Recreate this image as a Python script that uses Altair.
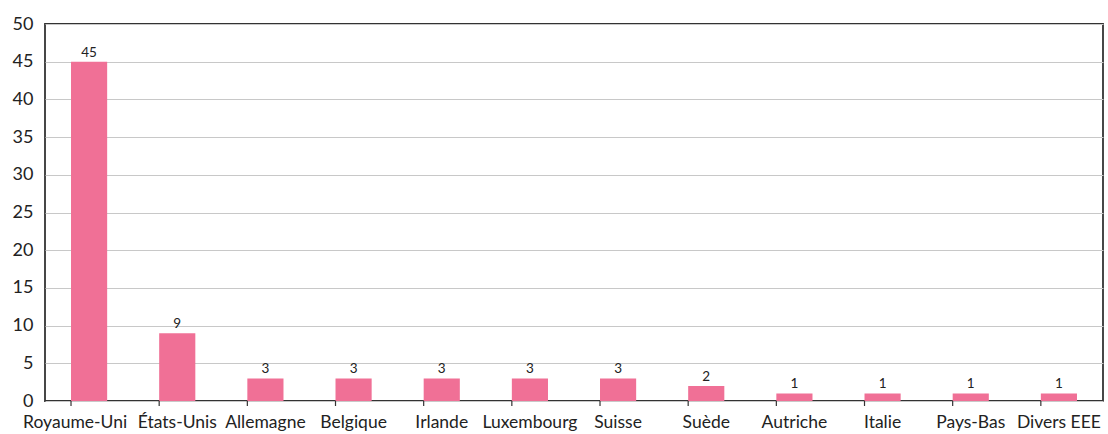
import altair as alt
import pandas as pd

countries = ["Royaume-Uni", "États-Unis", "Allemagne", "Belgique", "Irlande", "Luxembourg",
             "Suisse", "Suède", "Autriche", "Italie", "Pays-Bas", "Divers EEE"]
values = [45, 9, 3, 3, 3, 3, 3, 2, 1, 1, 1, 1]

df = pd.DataFrame({"pays": countries, "n": values})

W, H = 1058, 377
FONT = "Lato"
PINK = "#F07096"

xscale = alt.Scale(paddingInner=0.59, paddingOuter=0.295)
xaxis = alt.Axis(labelAngle=0, labelFontSize=17.5, labelFont=FONT, labelColor="#222",
                 ticks=False, domain=False, labelPadding=12, labelOverlap=False,
                 labelOffset=alt.ExprRef("datum.value == 'Royaume-Uni' ? -14 : 0"))
xenc = alt.X("pays:N", sort=countries, title=None, scale=xscale, axis=xaxis)
yenc = alt.Y("n:Q", title=None,
             scale=alt.Scale(domain=[0, 50], nice=False),
             axis=alt.Axis(values=list(range(0, 55, 5)), labelFontSize=18, labelFont=FONT,
                           labelColor="#222", ticks=False, domain=False, labelPadding=12,
                           labelOverlap=False, gridColor="#c8c8c8", gridWidth=1.2))

bars = alt.Chart(df).mark_bar(color=PINK).encode(x=xenc, y=yenc)

labels = alt.Chart(df).mark_text(dy=-9, fontSize=13.5, font=FONT, color="#222").encode(
    x=xenc, y=yenc, text="n:Q")

ticks = alt.Chart(df).mark_rule(color="#333", strokeWidth=1.2).encode(
    x=alt.X("pays:N", sort=countries, bandPosition=0, axis=xaxis, scale=xscale, title=None),
    y=alt.value(H), y2=alt.value(H + 5))

chart = alt.layer(bars, labels, ticks).properties(
    width=W, height=H,
    background="white",
    autosize=alt.AutoSizeParams(type="none"),
    padding={"left": 45, "top": 24, "right": 5, "bottom": 33},
).configure_view(stroke="#333", strokeWidth=1.8)

chart.save("out.html", embed_options={"renderer": "svg", "actions": False})
